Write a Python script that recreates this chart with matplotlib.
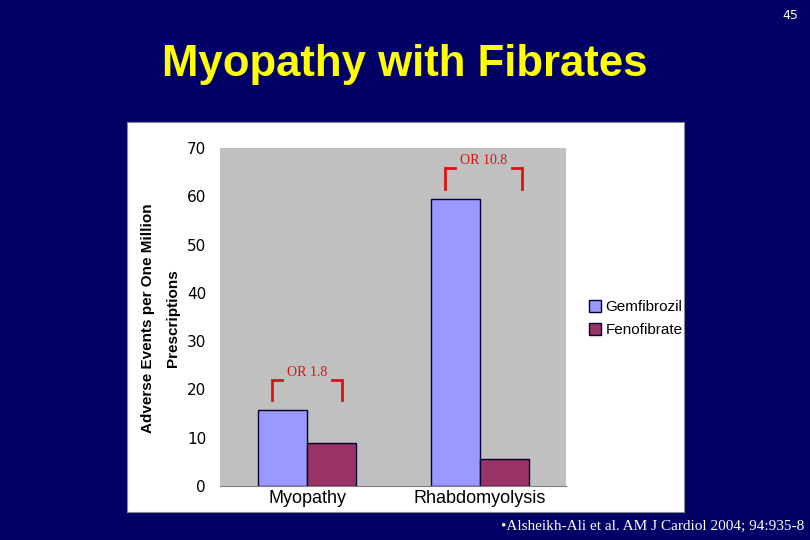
import matplotlib
matplotlib.use('Agg')
import matplotlib.pyplot as plt
import matplotlib.patches as mpatches
import numpy as np

categories = ['Myopathy', 'Rhabdomyolysis']
gemfibrozil = [15.7, 59.4]
fenofibrate = [8.9, 5.6]
odds_labels = ['OR 1.8', 'OR 10.8']
bracket_top = [21.9, 65.8]
bracket_bottom = [17.8, 61.5]

bg = '#000066'
fig = plt.figure(figsize=(8.1, 5.4), dpi=100, facecolor=bg)

# white chart panel, behind the axes
fig.patches.append(mpatches.Rectangle((0.1568, 0.0519), 0.6877, 0.7222, transform=fig.transFigure,
                                      facecolor='white', edgecolor='#888888', lw=0.8, zorder=-5))

fig.text(0.5, 0.88, 'Myopathy with Fibrates', color='#FFFF00', fontsize=31.5, fontweight='bold',
         ha='center', va='center', family='Liberation Sans')
fig.text(0.985, 0.972, '45', color='white', fontsize=9, ha='right', va='center')
fig.text(0.993, 0.025, '•Alsheikh-Ali et al. AM J Cardiol 2004; 94:935-8', color='white', fontsize=11,
         ha='right', va='center', family='Liberation Serif')

ax = fig.add_axes([0.2716, 0.1, 0.4272, 0.626])
ax.set_facecolor('#C0C0C0')
x = np.arange(len(categories))
w = 0.283
ax.bar(x - w / 2, gemfibrozil, w, color='#9999FF', edgecolor='#000033', lw=1, label='Gemfibrozil')
ax.bar(x + w / 2, fenofibrate, w, color='#993366', edgecolor='#000033', lw=1, label='Fenofibrate')
ax.set_xlim(-0.503, 1.497)
ax.set_ylim(0, 70)
ax.set_yticks(range(0, 71, 10))
ax.set_xticks(x)
ax.set_xticklabels(categories, fontsize=13, family='Liberation Sans')
ax.tick_params(axis='y', labelsize=11, length=0, pad=10)
ax.tick_params(axis='x', length=0, pad=3)
for s in ['top', 'right', 'left']:
    ax.spines[s].set_visible(False)
ax.spines['bottom'].set_color('#808080')

red = '#DD1111'
for i in range(len(categories)):
    l = x[i] - 0.202
    r = x[i] + 0.243 if i == 1 else x[i] + 0.202
    ax.plot([l, l, l + 0.058], [bracket_bottom[i], bracket_top[i], bracket_top[i]], color=red, lw=2,
            solid_joinstyle='miter')
    ax.plot([r - 0.058, r, r], [bracket_top[i], bracket_top[i], bracket_bottom[i]], color=red, lw=2,
            solid_joinstyle='miter')
    ax.text((l + r) / 2, bracket_top[i] + 0.3, odds_labels[i], color=red, fontsize=10,
            ha='center', va='bottom', family='Liberation Serif')

fig.text(0.183, 0.41, 'Adverse Events per One Million', rotation=90, fontsize=11, fontweight='bold',
         ha='center', va='center', family='Liberation Sans')
fig.text(0.213, 0.41, 'Prescriptions', rotation=90, fontsize=11, fontweight='bold',
         ha='center', va='center', family='Liberation Sans')

fig.legend(loc='center left', bbox_to_anchor=(0.71, 0.41), frameon=False,
           handlelength=0.8, handleheight=0.8, handletextpad=0.3, labelspacing=0.6,
           prop={'family': 'Liberation Sans', 'size': 11})

fig.savefig('out.png', dpi=100, facecolor=bg)
